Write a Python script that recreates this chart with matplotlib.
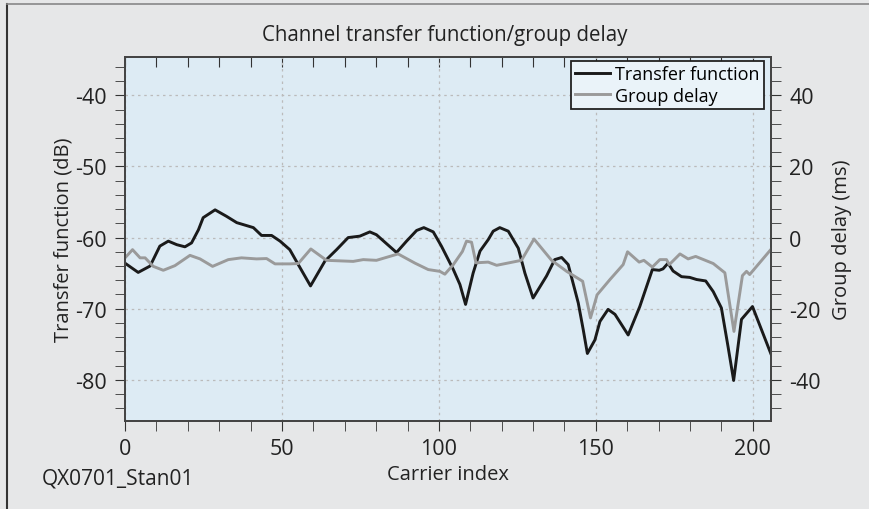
import matplotlib
matplotlib.use("Agg")
import matplotlib.pyplot as plt
from matplotlib.lines import Line2D
from matplotlib.ticker import MultipleLocator

# Transfer function (dB) vs carrier index
tf_idx = [0, 4.2, 8, 11.1, 13.8, 16.5, 19.1, 21.2, 23.4, 24.9, 28.7, 32.3, 35.6, 40.9,
          43.5, 46.7, 49.4, 52.5, 55.2, 59.1, 63.7, 67.4, 71.1, 74.8, 78.0, 80.1, 86.5,
          89.7, 92.9, 95.2, 98.2, 100.8, 104.6, 106.7, 108.5, 110.9, 113.1, 115.7, 117.3,
          119.4, 122.1, 125.3, 127.4, 130.0, 134.3, 136.9, 139.1, 141.2, 144.4, 146.0,
          147.3, 149.7, 151.3, 153.9, 156.1, 160.3, 164.0, 168.0, 170.2, 171.4, 173.0,
          174.6, 177.3, 179.9, 182.1, 185.0, 187.4, 190.0, 192.1, 193.9, 196.4, 199.9, 205.9]
tf_db = [-63.6, -64.9, -64.0, -61.2, -60.5, -61.0, -61.3, -60.75, -58.9, -57.2, -56.1, -57.0,
         -57.9, -58.6, -59.7, -59.7, -60.5, -61.7, -63.8, -66.8, -63.3, -61.7, -60.0, -59.8,
         -59.2, -59.6, -62.1, -60.5, -59.0, -58.6, -59.2, -61.2, -64.5, -66.6, -69.4, -65.0,
         -61.9, -60.3, -59.1, -58.6, -59.1, -61.5, -65.0, -68.5, -65.4, -63.1, -62.8, -63.8,
         -69.2, -73.0, -76.3, -74.4, -71.8, -70.1, -70.8, -73.7, -69.7, -64.5, -64.6, -64.4,
         -63.6, -64.7, -65.5, -65.6, -65.9, -66.1, -67.6, -69.9, -75.3, -80.1, -71.5, -69.7,
         -76.5]

# Group delay (ms) vs carrier index
gd_idx = [0, 2.4, 4.8, 6.4, 9.0, 12.2, 15.9, 20.7, 23.9, 27.9, 32.9, 37.1, 41.9, 45.1, 47.8,
          52.5, 55.2, 59.2, 64.2, 72.7, 75.9, 80.1, 87.0, 92.4, 96.6, 100.3, 101.9, 104.6,
          107.5, 108.8, 110.4, 111.8, 115.7, 118.4, 126.3, 130.3, 135.9, 140.7, 145.8, 148.3,
          150.4, 154.5, 158.7, 160.1, 163.8, 165.3, 168.0, 170.4, 172.5, 173.4, 176.8, 179.4,
          181.8, 187.4, 191.1, 194.0, 196.7, 198.0, 199.0, 205.9]
gd_ms = [-5.7, -3.4, -5.7, -5.7, -8.1, -9.2, -7.9, -5.0, -6.0, -8.1, -6.2, -5.7, -6.0, -5.9,
         -7.4, -7.4, -7.3, -3.2, -6.4, -6.7, -6.2, -6.4, -4.6, -7.2, -9.0, -9.5, -10.3, -7.6,
         -3.9, -1.0, -1.3, -7.1, -6.9, -7.8, -6.4, -0.4, -6.4, -9.5, -12.3, -22.6, -16.1,
         -11.8, -7.6, -4.0, -6.9, -6.4, -8.3, -6.2, -6.2, -7.6, -4.6, -6.0, -5.3, -7.3, -9.9,
         -26.4, -10.7, -9.5, -10.4, -3.2]

left_ticks = [-80, -70, -60, -50, -40]
right_ticks = [-40, -20, 0, 20, 40]

FONT = ["Open Sans", "DejaVu Sans"]
plt.rcParams["font.family"] = FONT

fig = plt.figure(figsize=(8.69, 5.10), dpi=100, facecolor="#e6e7e8")
ax = fig.add_axes([125 / 869, 1 - 422 / 510, (771 - 125) / 869, (422 - 58) / 510])
ax.set_facecolor("#ddebf4")

ylo, yhi = -85.8, -34.6
ax.set_xlim(0, 205.8)
ax.set_ylim(ylo, yhi)

ax2 = ax.twinx()
ax2.set_ylim(2 * (ylo + 60), 2 * (yhi + 60))

l1, = ax.plot(tf_idx, tf_db, color="#1a1a1a", lw=2.1, solid_joinstyle="round")
l2, = ax2.plot(gd_idx, gd_ms, color="#9a9a9a", lw=2.1, solid_joinstyle="round")

ax.xaxis.set_major_locator(MultipleLocator(50))
ax.xaxis.set_minor_locator(MultipleLocator(10))
ax.yaxis.set_minor_locator(MultipleLocator(2))
ax2.yaxis.set_minor_locator(MultipleLocator(4))

ax.grid(True, which="major", color="#bbbbbb", ls=(0, (2, 3)), lw=0.9)
ax.set_axisbelow(True)

tc = "#333333"
lc = "#222222"
ax.tick_params(axis="x", which="both", direction="out", top=False, colors=tc,
               labelcolor=lc, labelsize=15.5, length=7, pad=5)
ax.tick_params(axis="y", which="both", direction="out", colors=tc, labelcolor=lc,
               labelsize=15.5, length=7, pad=6)
ax2.tick_params(axis="y", which="both", direction="out", colors=tc, labelcolor=lc,
                labelsize=15.5, length=7, pad=6)

# top inward ticks
secx = ax.secondary_xaxis("top")
secx.xaxis.set_major_locator(MultipleLocator(10))
secx.tick_params(axis="x", direction="in", length=7, labeltop=False, colors=tc)

for a in (ax, ax2):
    for s in a.spines.values():
        s.set_color("#444444")
        s.set_linewidth(1.3)
secx.spines["top"].set_visible(False)

ax.set_yticks(left_ticks)
ax.set_yticklabels([f"{v}" for v in left_ticks])
ax2.set_yticks(right_ticks)
ax2.set_yticklabels([f"{v}" for v in right_ticks])

ax.set_xlabel("Carrier index", fontsize=14.5, color=lc, labelpad=4)
ax.set_ylabel("Transfer function (dB)", fontsize=14.5, color=lc, labelpad=1)
ax2.set_ylabel("Group delay (ms)", fontsize=14.5, color=lc, labelpad=8)
fig.text(445 / 869, 1 - 36 / 510, "Channel transfer function/group delay",
         ha="center", va="center", fontsize=14.8, color=lc)
fig.text(42 / 869, 1 - 479 / 510, "QX0701_Stan01", ha="left", va="center",
         fontsize=15, color=lc)

leg = ax.legend([l1, l2], ["Transfer function", "Group delay"], loc="upper right",
                bbox_to_anchor=(1 - 7 / 646, 1 - 3.5 / 364), fontsize=13, frameon=True,
                fancybox=False, framealpha=1, edgecolor="#222222", facecolor="#eaf3f9",
                handlelength=1.9, handletextpad=0.3, borderpad=0.25, labelspacing=0.2,
                borderaxespad=0)
leg.get_frame().set_linewidth(1.3)
leg.set_zorder(10)

# figure border lines (left dark, top lighter)
fig.add_artist(Line2D([7.5 / 869, 7.5 / 869], [0, 1 - 5 / 510], color="#333333", lw=1.5))
fig.add_artist(Line2D([7.5 / 869, 1], [1 - 5 / 510, 1 - 5 / 510], color="#888888", lw=1.2))

fig.savefig("out.png", dpi=100, facecolor=fig.get_facecolor())
